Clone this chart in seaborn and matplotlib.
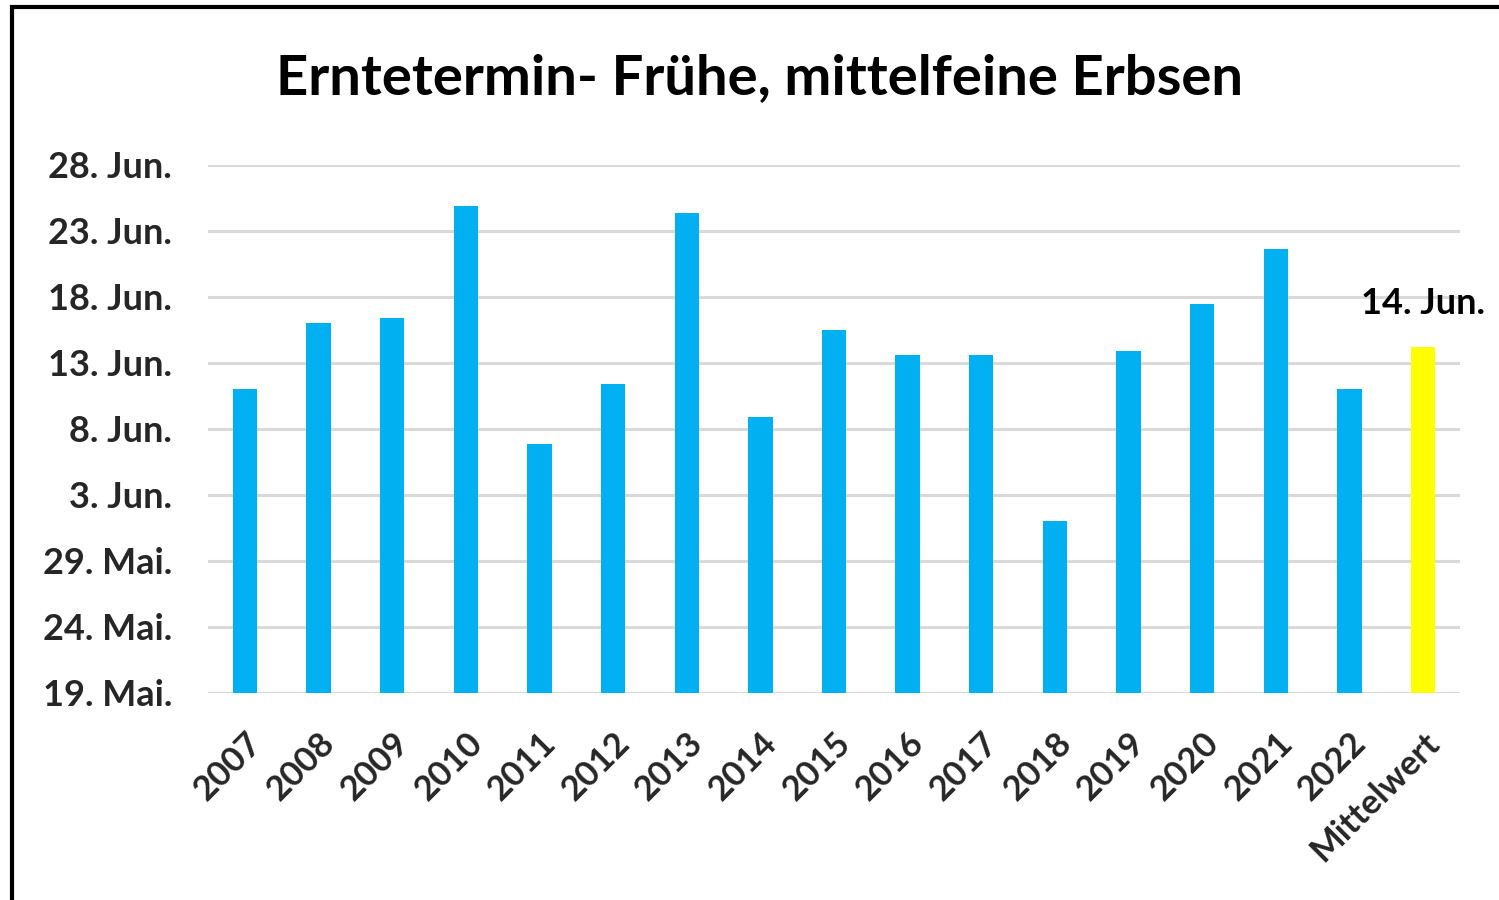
import matplotlib
matplotlib.use("Agg")
import matplotlib.pyplot as plt
import seaborn as sns
from matplotlib.patches import Rectangle

# Data: harvest date as days after 19 May
categories = ["2007", "2008", "2009", "2010", "2011", "2012", "2013", "2014",
              "2015", "2016", "2017", "2018", "2019", "2020", "2021", "2022", "Mittelwert"]
days_after_19_may = [23.0, 28.0, 28.4, 36.9, 18.9, 23.4, 36.4, 20.9,
                     27.5, 25.6, 25.6, 13.0, 25.9, 29.5, 33.6, 23.0, 26.2]
tick_values = [0, 5, 10, 15, 20, 25, 30, 35, 40]
tick_labels = ["19. Mai.", "24. Mai.", "29. Mai.", "3. Jun.", "8. Jun.",
               "13. Jun.", "18. Jun.", "23. Jun.", "28. Jun."]
mean_label = "14. Jun."
title = "Erntetermin- Frühe, mittelfeine Erbsen"

sns.set_theme(style="white")
plt.rcParams['font.family'] = ['Lato', 'DejaVu Sans']

fig = plt.figure(figsize=(14.99, 9.0), dpi=100)
ax = fig.add_axes([208/1499, 1-693/900, (1460-208)/1499, (693-165)/900])

colors = ["#00B0F0"] * (len(categories) - 1) + ["#FFFF00"]
sns.barplot(x=categories, y=days_after_19_may, hue=categories, palette=colors,
            legend=False, width=0.33, ax=ax, saturation=1, edgecolor="none")

ax.set_ylim(0, 40)
ax.set_xlim(-0.5, len(categories) - 0.5)
ax.set_yticks(tick_values)
ax.set_yticklabels(tick_labels, fontsize=26, fontweight="bold")
ax.yaxis.grid(True, color="#D9D9D9", linewidth=2.2)
ax.set_axisbelow(True)
for s in ax.spines.values():
    s.set_visible(False)
ax.tick_params(axis="y", length=0, pad=26)
ax.tick_params(axis="x", length=0, pad=24)
ax.set_xticks(range(len(categories)))
ax.set_xticklabels(categories, rotation=45, ha="right", rotation_mode="anchor",
                   fontsize=25, fontweight="bold")
ax.set_xlabel("")
ax.set_ylabel("")

# mean label
ax.text(len(categories) - 1, days_after_19_may[-1] + 3.3, mean_label,
        ha="center", va="center", fontsize=26, fontweight="bold", color="black",
        clip_on=False)

fig.text(760/1499, 1-78/900, title, ha="center", va="center",
         fontsize=40.5, fontweight="bold", color="black")

fig.patches.append(Rectangle((12/1499, -0.05), 1.1, 1.05 - 7/900,
                             transform=fig.transFigure, fill=False,
                             edgecolor="black", linewidth=3, zorder=10))

fig.savefig("out.png", dpi=100, facecolor="white")
